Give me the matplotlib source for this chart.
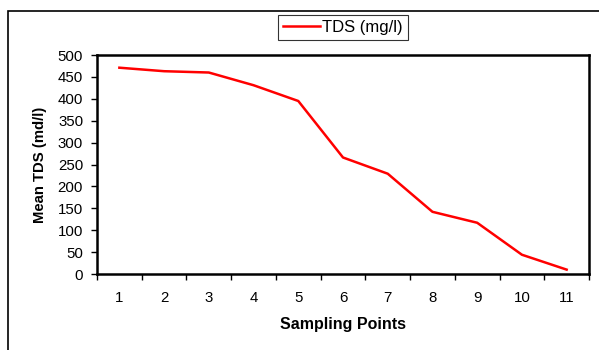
import matplotlib
matplotlib.use("Agg")
import matplotlib.pyplot as plt
from matplotlib.patches import Rectangle
import numpy as np

plt.rcParams['font.family'] = ['Liberation Sans', 'DejaVu Sans']

# data
points = [1, 2, 3, 4, 5, 6, 7, 8, 9, 10, 11]
tds = [471, 463, 460, 431, 395, 266, 229, 142, 117, 44, 10]
y_ticks = list(range(0, 501, 50))

fig = plt.figure(figsize=(5.99, 3.5), dpi=100)
ax = fig.add_axes([97 / 599, 76 / 350, 492 / 599, 219 / 350])

# outer chart frame (runs off the right and bottom edges)
fig.patches.append(Rectangle((8 / 599, -0.2), 1.0, 1.2 - 11 / 350,
                             transform=fig.transFigure, fill=False,
                             edgecolor="black", linewidth=1.2))

x = np.arange(len(points))
ax.plot(x, tds, color="red", linewidth=1.8, label="TDS (mg/l)")

ax.set_xlim(-0.5, len(points) - 0.5)
ax.set_ylim(0, 500)
ax.set_yticks(y_ticks)
ax.set_yticklabels([str(v) for v in y_ticks], fontsize=10.8)

# category axis: ticks between categories, labels centred
ax.set_xticks(np.arange(-0.5, len(points), 1.0))
ax.set_xticklabels([])
ax.set_xticks(x, minor=True)
ax.set_xticklabels([str(p) for p in points], minor=True, fontsize=10.8)
ax.tick_params(axis="x", which="minor", length=0, pad=12)
ax.tick_params(axis="x", which="major", direction="out", length=4, width=1)
ax.tick_params(axis="y", direction="out", length=4, width=1, pad=6)

for s in ax.spines.values():
    s.set_linewidth(1.8)

ax.set_xlabel("Sampling Points", fontsize=11.5, fontweight="bold", labelpad=9)
ax.set_ylabel("Mean TDS (md/l)", fontsize=10.7, fontweight="bold", labelpad=8)

leg = fig.legend(loc="upper left", bbox_to_anchor=(278 / 599, 1 - 15 / 350),
                 prop={"size": 12}, frameon=True, fancybox=False,
                 handlelength=2.2, borderpad=0.3, handletextpad=0.15,
                 borderaxespad=0)
leg.get_frame().set_edgecolor("black")
leg.get_frame().set_linewidth(0.8)

fig.savefig("out.png", dpi=100)
